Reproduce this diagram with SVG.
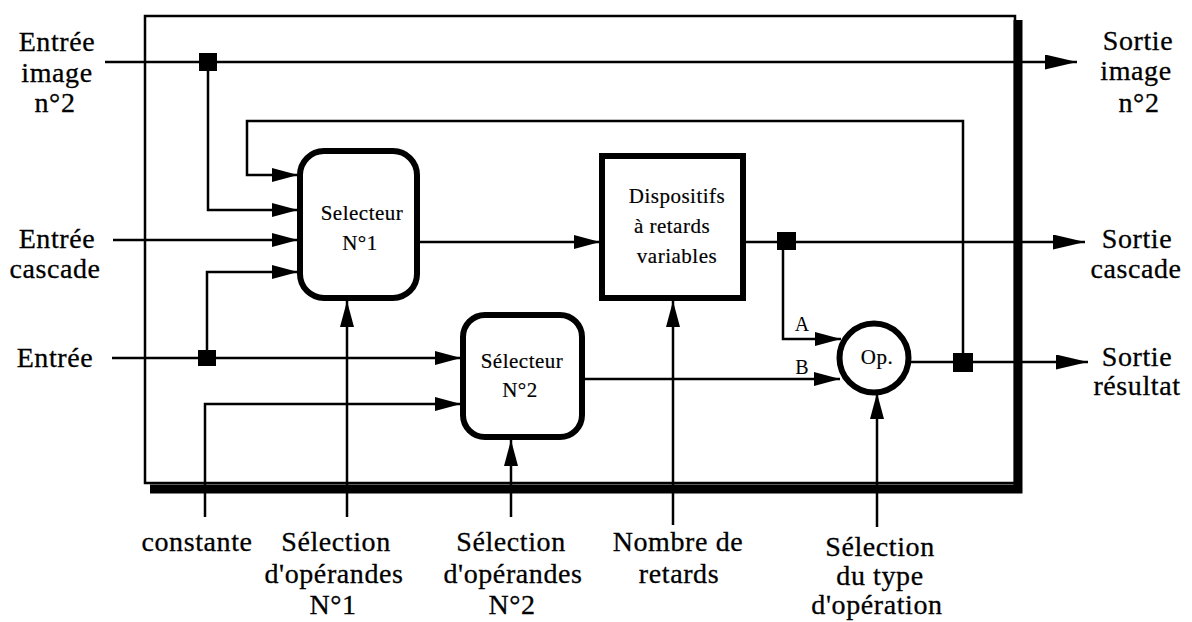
<svg xmlns="http://www.w3.org/2000/svg" width="1192" height="622" viewBox="0 0 1192 622">
<style>
.ln{fill:none;stroke:#000;stroke-width:2.5}
.box{fill:#fff;stroke:#000;stroke-width:6}
.jn{fill:#000}
.lbl{font-size:28px;letter-spacing:0.6px;text-anchor:middle;fill:#000;stroke:#000;stroke-width:0.3}
.blbl{font-size:21px;letter-spacing:0.5px;text-anchor:middle;fill:#000;stroke:#000;stroke-width:0.2}
.ab{font-size:20px;text-anchor:middle;fill:#000}
</style>
<defs>
<marker id="ar" markerUnits="userSpaceOnUse" viewBox="0 0 26 14" refX="26" refY="7" markerWidth="26" markerHeight="14" orient="auto"><path d="M0,0 L26,7 L0,14 z" fill="#000"/></marker>
<marker id="arL" markerUnits="userSpaceOnUse" viewBox="0 0 32 15" refX="32" refY="7.5" markerWidth="32" markerHeight="15" orient="auto"><path d="M0,0 L32,7.5 L0,15 z" fill="#000"/></marker>
</defs>
<rect width="1192" height="622" fill="#fff"/>
<g id="frame">
<rect x="145" y="16" width="870" height="467" fill="none" stroke="#000" stroke-width="2.5"/>
<path d="M1018,20 V489 H150" fill="none" stroke="#000" stroke-width="9"/>
</g>
<g id="connectors">
<path class="ln" d="M105,62 H1077" marker-end="url(#arL)"/>
<path class="ln" d="M208,62 V210 H298" marker-end="url(#ar)"/>
<path class="ln" d="M963,363 V121 H247 V175 H298" marker-end="url(#ar)"/>
<path class="ln" d="M113,240 H298" marker-end="url(#ar)"/>
<path class="ln" d="M207,358 V272 H298" marker-end="url(#ar)"/>
<path class="ln" d="M112,358 H461" marker-end="url(#ar)"/>
<path class="ln" d="M205,517 V404 H461" marker-end="url(#ar)"/>
<path class="ln" d="M420,242 H600" marker-end="url(#ar)"/>
<path class="ln" d="M746,242 H1085" marker-end="url(#arL)"/>
<path class="ln" d="M783,242 V339 H841" marker-end="url(#ar)"/>
<path class="ln" d="M585,379 H840" marker-end="url(#ar)"/>
<path class="ln" d="M911,362 H1088" marker-end="url(#arL)"/>
<path class="ln" d="M347,517 V301" marker-end="url(#ar)"/>
<path class="ln" d="M511,517 V440" marker-end="url(#ar)"/>
<path class="ln" d="M673,525 V301" marker-end="url(#ar)"/>
<path class="ln" d="M877,527 V393" marker-end="url(#ar)"/>
<rect class="jn" x="199" y="53" width="18" height="18"/>
<rect class="jn" x="198" y="350" width="18" height="16"/>
<rect class="jn" x="777" y="232" width="19" height="18"/>
<rect class="jn" x="953" y="353" width="20" height="19"/>
<text class="ab" font-family="Liberation Serif" x="802" y="331">A</text>
<text class="ab" font-family="Liberation Serif" x="802" y="374">B</text>
</g>
<g id="sel1">
<rect class="box" x="300" y="151" width="117" height="147" rx="24"/>
<text class="blbl" font-family="Liberation Serif" x="362" y="220">Selecteur</text>
<text class="blbl" font-family="Liberation Serif" x="360" y="250">N°1</text>
</g>
<g id="disp">
<rect class="box" x="602" y="156" width="141" height="142"/>
<text class="blbl" font-family="Liberation Serif" x="677" y="203">Dispositifs</text>
<text class="blbl" font-family="Liberation Serif" x="672" y="233">à retards</text>
<text class="blbl" font-family="Liberation Serif" x="677" y="263">variables</text>
</g>
<g id="sel2">
<rect class="box" x="463" y="315" width="119" height="122" rx="22"/>
<text class="blbl" font-family="Liberation Serif" x="522" y="368">Sélecteur</text>
<text class="blbl" font-family="Liberation Serif" x="520" y="397">N°2</text>
</g>
<g id="op">
<circle class="box" cx="874" cy="358" r="34.5"/>
<text class="blbl" font-family="Liberation Serif" x="877" y="364">Op.</text>
</g>
<g id="labels-left">
<text class="lbl" font-family="Liberation Serif" x="57" y="51">Entrée</text>
<text class="lbl" font-family="Liberation Serif" x="57" y="82">image</text>
<text class="lbl" font-family="Liberation Serif" x="55" y="112">n°2</text>
<text class="lbl" font-family="Liberation Serif" x="57" y="248">Entrée</text>
<text class="lbl" font-family="Liberation Serif" x="55" y="278">cascade</text>
<text class="lbl" font-family="Liberation Serif" x="55" y="367">Entrée</text>
</g>
<g id="labels-right">
<text class="lbl" font-family="Liberation Serif" x="1138" y="50">Sortie</text>
<text class="lbl" font-family="Liberation Serif" x="1136" y="80">image</text>
<text class="lbl" font-family="Liberation Serif" x="1139" y="112">n°2</text>
<text class="lbl" font-family="Liberation Serif" x="1137" y="248">Sortie</text>
<text class="lbl" font-family="Liberation Serif" x="1136" y="278">cascade</text>
<text class="lbl" font-family="Liberation Serif" x="1137" y="366">Sortie</text>
<text class="lbl" font-family="Liberation Serif" x="1137" y="395">résultat</text>
</g>
<g id="labels-bottom">
<text class="lbl" font-family="Liberation Serif" x="197" y="551">constante</text>
<text class="lbl" font-family="Liberation Serif" x="336" y="551">Sélection</text>
<text class="lbl" font-family="Liberation Serif" x="334" y="583">d'opérandes</text>
<text class="lbl" font-family="Liberation Serif" x="333" y="614">N°1</text>
<text class="lbl" font-family="Liberation Serif" x="511" y="551">Sélection</text>
<text class="lbl" font-family="Liberation Serif" x="513" y="583">d'opérandes</text>
<text class="lbl" font-family="Liberation Serif" x="512" y="614">N°2</text>
<text class="lbl" font-family="Liberation Serif" x="678" y="551">Nombre de</text>
<text class="lbl" font-family="Liberation Serif" x="679" y="583">retards</text>
<text class="lbl" font-family="Liberation Serif" x="880" y="556">Sélection</text>
<text class="lbl" font-family="Liberation Serif" x="880" y="585">du type</text>
<text class="lbl" font-family="Liberation Serif" x="877" y="614">d'opération</text>
</g>
</svg>
